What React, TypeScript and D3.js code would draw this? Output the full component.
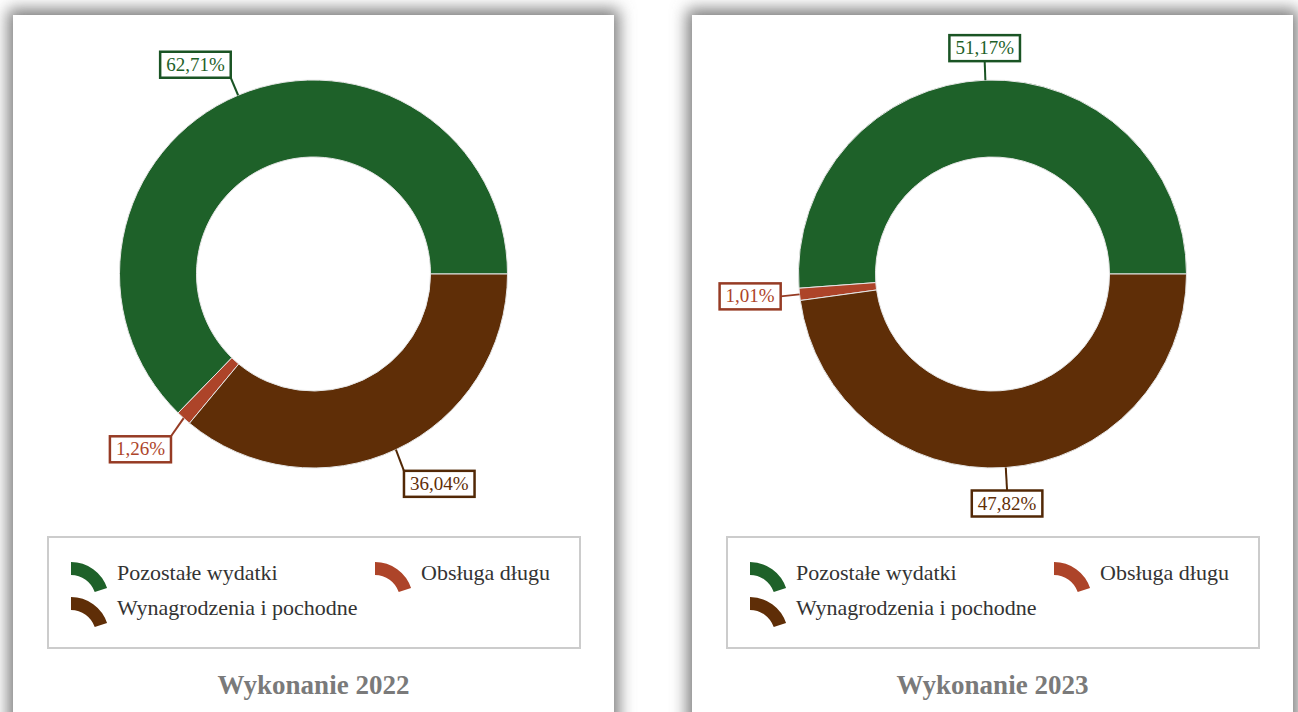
import React from "react";
import * as d3 from "d3";

// data
const categories = ["Pozostałe wydatki", "Obsługa długu", "Wynagrodzenia i pochodne"];
const values2022 = [62.71, 1.26, 36.04];
const values2023 = [51.17, 1.01, 47.82];
const colors = ["#1e6129", "#ad4429", "#5f2e07"];
const titles = ["Wykonanie 2022", "Wykonanie 2023"];

const W = 1298;
const H = 712;
const panelW = 601;
const panelXs = [13, 692];
const panelY = 15;
const outerR = 194;
const innerR = 117;
const cy = 274;
const labelFont = 19;
const legendFont = 22;
const fontFamily = "'Liberation Serif', 'Times New Roman', serif";

// legend item placement (relative to panel left): [x, row]
const legendSlots: [number, number][] = [[58, 0], [362, 0], [58, 1]];

const fmt = (v: number) => v.toFixed(2).replace(".", ",") + "%";

// rough text width for Liberation Serif digits / comma / percent
const textW = (s: string, size: number) => {
  let w = 0;
  for (const ch of s) {
    if (ch === ",") w += 0.25;
    else if (ch === "%") w += 0.833;
    else w += 0.5;
  }
  return w * size;
};

const pie = d3.pie<number>()
  .sort(null)
  .value(d => d)
  .startAngle(Math.PI / 2)
  .endAngle(Math.PI / 2 - 2 * Math.PI);

const arc = d3.arc<d3.PieArcDatum<number>>()
  .innerRadius(innerR)
  .outerRadius(outerR);

const iconArc = d3.arc()
  .innerRadius(25)
  .outerRadius(38)
  .startAngle(0)
  .endAngle(1.25);

const Donut = ({ values, px, title }: { values: number[]; px: number; title: string }) => {
  const cx = px + panelW / 2;
  const arcs = pie(values);
  return (
    <g>
      <g transform={`translate(${cx},${cy})`}>
        {arcs.map((a, i) => (
          <path key={i} d={arc(a) || ""} fill={colors[i]} stroke="#e6e6e6" strokeWidth={1} />
        ))}
      </g>
      {arcs.map((a, i) => {
        const mid = (a.startAngle + a.endAngle) / 2;
        const s = Math.sin(mid);
        const c = Math.cos(mid);
        const p0 = [cx + outerR * s, cy - outerR * c];
        const p1 = [cx + 213 * s, cy - 213 * c];
        const txt = fmt(values[i]);
        const bw = textW(txt, labelFont) + 12;
        const bh = 26;
        let bx = p1[0] - bw / 2;
        if (s > 0.3) bx = p1[0];
        else if (s < -0.3) bx = p1[0] - bw;
        let by = p1[1] - bh / 2;
        if (c > 0.3) by = p1[1] - bh;
        else if (c < -0.3) by = p1[1] + 4;
        const border = d3.color(colors[i])!.darker(0.4).formatHex();
        return (
          <g key={"l" + i}>
            <line x1={p0[0]} y1={p0[1]} x2={p1[0]} y2={c < -0.3 ? by : p1[1]} stroke={border} strokeWidth={2} />
            <rect x={bx} y={by} width={bw} height={bh} fill="#fff" stroke={border} strokeWidth={2.5} />
            <text x={bx + bw / 2} y={by + 19} textAnchor="middle" fontSize={labelFont}
              fontFamily={fontFamily} fill={colors[i]}>{txt}</text>
          </g>
        );
      })}
      <rect x={px + 35} y={537} width={532} height={111} fill="#fff" stroke="#cccccc" strokeWidth={2} />
      {categories.map((cat, i) => {
        const [lx, row] = legendSlots[i];
        const ix = px + lx;
        const iy = 600 + row * 35;
        return (
          <g key={"g" + i}>
            <path d={iconArc({} as any) || ""} transform={`translate(${ix},${iy})`} fill={colors[i]} />
            <text x={ix + 46} y={580 + row * 35} fontSize={legendFont} fontFamily={fontFamily} fill="#333">{cat}</text>
          </g>
        );
      })}
      <text x={cx} y={694} textAnchor="middle" fontSize={27} fontWeight="bold"
        fontFamily={fontFamily} fill="#7a7a7a">{title}</text>
    </g>
  );
};

const App = () => {
  const series = [values2022, values2023];
  return (
    <svg width={W} height={H} style={{ position: "fixed", left: 0, top: 0 }}>
      <defs>
        <filter id="shadow" x="-20%" y="-20%" width="140%" height="140%">
          <feGaussianBlur stdDeviation={8} />
        </filter>
      </defs>
      <rect x={0} y={0} width={W} height={H} fill="#fff" />
      {panelXs.map((px, i) => (
        <rect key={"s" + i} x={px - 5} y={panelY - 6} width={panelW + 10} height={760} fill="#7c7c7c" filter="url(#shadow)" />
      ))}
      {panelXs.map((px, i) => (
        <rect key={"p" + i} x={px} y={panelY} width={panelW} height={740} fill="#fff" />
      ))}
      {panelXs.map((px, i) => (
        <Donut key={i} values={series[i]} px={px} title={titles[i]} />
      ))}
    </svg>
  );
};

export default App;
